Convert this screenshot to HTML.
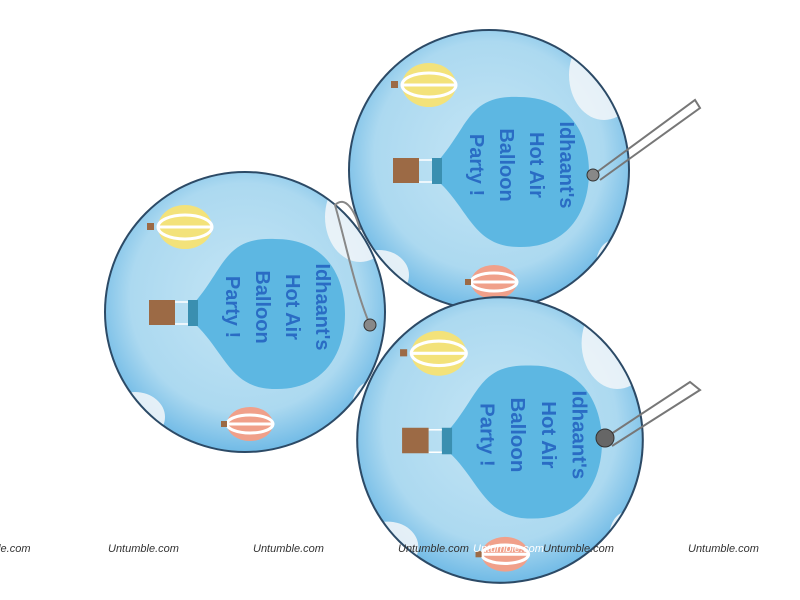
<!DOCTYPE html>
<html><head><style>
html,body{margin:0;padding:0;background:#fff;width:800px;height:600px;overflow:hidden}
svg{display:block}
.wm{font-family:"Liberation Sans",sans-serif;font-size:11px;fill:#333;font-style:italic}
.t{font-family:"Liberation Sans",sans-serif;font-size:20px;font-weight:bold;fill:#2a6cc4}
</style></head><body>
<svg width="800" height="600" viewBox="0 0 800 600" xmlns="http://www.w3.org/2000/svg">
<defs>
<radialGradient id="bg" cx="50%" cy="45%" r="55%">
<stop offset="0" stop-color="#c4e5f5"/><stop offset="0.75" stop-color="#acd9f0"/><stop offset="1" stop-color="#72bbe6"/>
</radialGradient>
<clipPath id="cc"><circle r="139"/></clipPath>
<g id="card">
<circle r="141" fill="#2c4a66"/>
<circle r="139" fill="url(#bg)"/>
<g clip-path="url(#cc)">
<ellipse cx="115" cy="-95" rx="35" ry="45" fill="#eef4f8" opacity="0.9"/>
<ellipse cx="-110" cy="105" rx="30" ry="25" fill="#eef4f8" opacity="0.9"/>
<ellipse cx="125" cy="95" rx="18" ry="25" fill="#eef4f8" opacity="0.9"/>
</g>
<path d="M-50,-10 C-20,-45 -20,-75 30,-73 C85,-73 100,-30 100,2 C100,40 80,78 30,77 C-15,77 -20,40 -50,12 Z" fill="#5db7e2"/>
<rect x="-57" y="-12" width="10" height="26" fill="#3a8fb0"/>
<line x1="-70" y1="-10" x2="-57" y2="-10" stroke="#fff" stroke-width="1.5"/>
<line x1="-70" y1="12" x2="-57" y2="12" stroke="#fff" stroke-width="1.5"/>
<rect x="-96" y="-12" width="26" height="25" fill="#9c6a45"/>
<g transform="translate(71,-5) rotate(90)"><text class="t" text-anchor="middle">Idhaant's</text></g>
<g transform="translate(41,-5) rotate(90)"><text class="t" text-anchor="middle">Hot Air</text></g>
<g transform="translate(11,-5) rotate(90)"><text class="t" text-anchor="middle">Balloon</text></g>
<g transform="translate(-19,-5) rotate(90)"><text class="t" text-anchor="middle">Party !</text></g>
<ellipse cx="-60" cy="-85" rx="27" ry="22" fill="#f3e27a"/>
<ellipse cx="-60" cy="-85" rx="27" ry="12" fill="none" stroke="#fff" stroke-width="3"/>
<line x1="-87" y1="-85" x2="-33" y2="-85" stroke="#fff" stroke-width="3"/>
<rect x="-98" y="-89" width="7" height="7" fill="#9c6a45"/>
<ellipse cx="5" cy="112" rx="23" ry="17" fill="#f0a08a"/>
<ellipse cx="5" cy="112" rx="23" ry="9" fill="none" stroke="#fff" stroke-width="3"/>
<line x1="-18" y1="112" x2="28" y2="112" stroke="#fff" stroke-width="3"/>
<rect x="-24" y="109" width="6" height="6" fill="#9c6a45"/>
</g>
</defs>
<g transform="translate(489,170)"><use href="#card"/></g>
<path d="M593,175 L695,100 L700,108 L600,180" fill="none" stroke="#777" stroke-width="2"/>
<circle cx="593" cy="175" r="6" fill="#888" stroke="#333"/>
<g transform="translate(245,312)"><use href="#card"/></g>
<path d="M370,325 C355,290 345,240 335,205 C345,195 355,210 360,230" fill="none" stroke="#888" stroke-width="2"/>
<circle cx="370" cy="325" r="6" fill="#888" stroke="#333"/>
<g transform="translate(500,440) scale(1.02)"><use href="#card"/></g>
<path d="M605,438 L690,382 L700,390 L612,446" fill="none" stroke="#777" stroke-width="2"/>
<circle cx="605" cy="438" r="9" fill="#666" stroke="#333"/>
<text class="wm" x="-8" y="552">ble.com</text>
<text class="wm" x="108" y="552">Untumble.com</text>
<text class="wm" x="253" y="552">Untumble.com</text>
<text class="wm" x="398" y="552">Untumble.com</text>
<text class="wm" x="473" y="552" style="fill:#fff">Untumble.com</text>
<text class="wm" x="543" y="552">Untumble.com</text>
<text class="wm" x="688" y="552">Untumble.com</text>
</svg>
</body></html>
